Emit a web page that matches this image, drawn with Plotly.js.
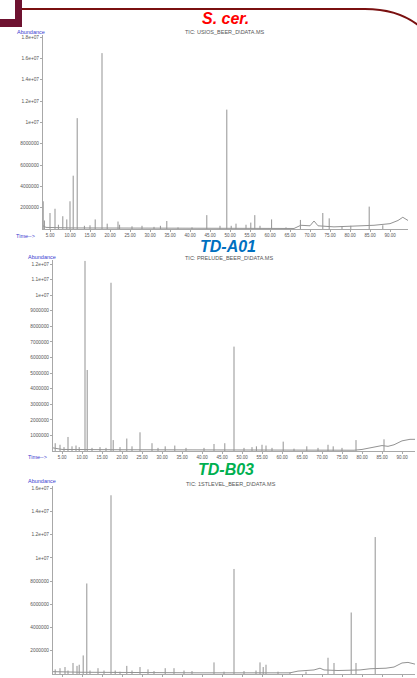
<!DOCTYPE html>
<html>
<head>
<meta charset="utf-8">
<script src="https://cdn.plot.ly/plotly-3.0.1.min.js"></script>
<style>
  html, body { margin: 0; padding: 0; background: #ffffff; }
  #chart { width: 417px; height: 678px; }
</style>
</head>
<body>
<div id="chart"></div>
<script>
// ---------- Panel titles ----------
const panelTitles = ['S. cer.', 'TD-A01', 'TD-B03'];
const panelFiles = ['TIC: USIOS_BEER_D\\DATA.MS', 'TIC: PRELUDE_BEER_D\\DATA.MS', 'TIC: 1STLEVEL_BEER_D\\DATA.MS'];

// ---------- Time axis ticks (minutes) ----------
const timeTickVals = [5, 10, 15, 20, 25, 30, 35, 40, 45, 50, 55, 60, 65, 70, 75, 80, 85, 90];
const timeTickText = ['5.00', '10.00', '15.00', '20.00', '25.00', '30.00', '35.00', '40.00', '45.00',
  '50.00', '55.00', '60.00', '65.00', '70.00', '75.00', '80.00', '85.00', '90.00'];

// ---------- Abundance ticks ----------
const scAbTickVals = [2e6, 4e6, 6e6, 8e6, 1e7, 1.2e7, 1.4e7, 1.6e7, 1.8e7];
const scAbTickText = ['2000000', '4000000', '6000000', '8000000', '1e+07', '1.2e+07', '1.4e+07', '1.6e+07', '1.8e+07'];
const a01AbTickVals = [1e6, 2e6, 3e6, 4e6, 5e6, 6e6, 7e6, 8e6, 9e6, 1e7, 1.1e7, 1.2e7];
const a01AbTickText = ['1000000', '2000000', '3000000', '4000000', '5000000', '6000000', '7000000', '8000000', '9000000', '1e+07', '1.1e+07', '1.2e+07'];
const b03AbTickVals = [2e6, 4e6, 6e6, 8e6, 1e7, 1.2e7, 1.4e7, 1.6e7];
const b03AbTickText = ['2000000', '4000000', '6000000', '8000000', '1e+07', '1.2e+07', '1.4e+07', '1.6e+07'];

// ---------- S. cer. chromatogram ----------
const scPeakTime = [3.3, 3.6, 5.0, 6.25, 7.1, 8.2, 9.2, 10.0, 10.8, 11.8, 13.6, 15.0, 16.3, 18.0, 19.3, 22.0, 22.4, 25.5, 28.0, 31.0,
  32.6, 34.2, 37.0, 40.5, 44.2, 47.5, 49.2, 50.3, 51.5, 54.0, 55.2, 56.2, 57.5, 60.4, 64.0, 67.6, 73.2, 74.8, 78.0, 80.2, 84.8, 88.2];
const scPeakAbund = [2.6e6, 0.8e6, 1.5e6, 1.9e6, 0.4e6, 1.2e6, 0.9e6, 2.6e6, 5.0e6, 10.4e6, 0.3e6, 0.35e6, 0.9e6, 16.5e6, 0.5e6, 0.7e6, 0.4e6, 0.25e6, 0.3e6, 0.2e6,
  0.3e6, 0.75e6, 0.15e6, 0.15e6, 1.3e6, 0.3e6, 11.2e6, 0.3e6, 0.5e6, 0.4e6, 0.6e6, 1.3e6, 0.3e6, 0.9e6, 0.15e6, 0.85e6, 1.5e6, 1.0e6, 0.25e6, 0.3e6, 2.1e6, 0.35e6];
const scBaseTime = [3.25, 4.0, 10.0, 20.0, 40.0, 66.0, 67.7, 70.0, 71.0, 72.0, 76.0, 80.0, 84.0, 86.0, 90.0, 92.0, 93.2, 94.5];
const scBaseAbund = [0.3e6, 0.15e6, 0.1e6, 0.08e6, 0.05e6, 0.05e6, 0.35e6, 0.3e6, 0.75e6, 0.3e6, 0.2e6, 0.25e6, 0.3e6, 0.35e6, 0.5e6, 0.8e6, 1.1e6, 0.8e6];

// ---------- TD-A01 chromatogram ----------
const a01PeakTime = [3.3, 4.5, 5.5, 6.5, 7.5, 8.5, 9.3, 10.75, 11.3, 12.5, 14.5, 16.0, 17.25, 17.8, 19.5, 21.2, 22.5, 24.5, 27.5, 29.0,
  30.8, 33.2, 36.0, 40.5, 43.0, 45.7, 48.0, 50.5, 52.5, 53.6, 55.0, 56.0, 57.5, 60.3, 63.0, 66.2, 69.0, 71.5, 72.8, 75.0, 78.5, 85.5];
const a01PeakAbund = [0.5e6, 0.4e6, 0.25e6, 0.9e6, 0.3e6, 0.35e6, 0.25e6, 12.2e6, 5.2e6, 0.2e6, 0.25e6, 0.2e6, 10.8e6, 0.7e6, 0.25e6, 0.8e6, 0.3e6, 1.2e6, 0.5e6, 0.2e6,
  0.3e6, 0.35e6, 0.2e6, 0.2e6, 0.45e6, 0.5e6, 6.7e6, 0.2e6, 0.25e6, 0.3e6, 0.4e6, 0.35e6, 0.2e6, 0.6e6, 0.15e6, 0.3e6, 0.2e6, 0.4e6, 0.3e6, 0.2e6, 0.7e6, 0.75e6];
const a01BaseTime = [2.75, 5.0, 20.0, 60.0, 78.0, 80.0, 82.0, 84.0, 85.0, 86.5, 88.0, 90.0, 92.0, 93.25];
const a01BaseAbund = [0.2e6, 0.1e6, 0.08e6, 0.05e6, 0.05e6, 0.1e6, 0.2e6, 0.3e6, 0.35e6, 0.3e6, 0.4e6, 0.65e6, 0.75e6, 0.75e6];

// ---------- TD-B03 chromatogram ----------
const b03PeakTime = [3.3, 4.5, 5.75, 6.5, 7.75, 8.75, 9.3, 10.3, 11.2, 12.0, 14.0, 15.5, 17.25, 18.3, 19.5, 21.2, 22.5, 24.5, 26.5, 28.0,
  30.8, 33.0, 35.5, 37.5, 43.0, 45.5, 48.0, 50.5, 53.5, 54.5, 55.3, 56.0, 59.0, 62.0, 66.0, 71.5, 73.0, 77.3, 78.5, 83.3];
const b03PeakAbund = [0.4e6, 0.5e6, 0.6e6, 0.3e6, 0.95e6, 0.7e6, 0.8e6, 1.6e6, 7.8e6, 0.3e6, 0.5e6, 0.3e6, 15.4e6, 0.3e6, 0.2e6, 0.7e6, 0.3e6, 0.6e6, 0.4e6, 0.25e6,
  0.5e6, 0.5e6, 0.3e6, 0.25e6, 1.0e6, 0.2e6, 9.05e6, 0.25e6, 0.3e6, 1.0e6, 0.6e6, 0.8e6, 0.2e6, 0.15e6, 0.2e6, 1.4e6, 0.95e6, 5.3e6, 0.95e6, 11.8e6];
const b03BaseTime = [2.75, 10.0, 40.0, 62.0, 64.0, 66.0, 68.0, 69.5, 70.5, 74.0, 79.5, 82.0, 86.0, 88.0, 90.0, 91.5, 93.25];
const b03BaseAbund = [0.2e6, 0.15e6, 0.1e6, 0.1e6, 0.25e6, 0.3e6, 0.35e6, 0.5e6, 0.35e6, 0.3e6, 0.35e6, 0.45e6, 0.5e6, 0.6e6, 0.95e6, 1.0e6, 0.85e6];

// ---------- helpers (pixel -> paper fraction) ----------
const W = 417, H = 678;
const px = v => v / W;
const py = v => 1 - v / H;

const LINE = '#939393';
const FONT = 'Liberation Sans, Arial, sans-serif';

function peakSegments(times, abunds) {
  const x = [], y = [];
  times.forEach((t, i) => { x.push(t, t, null); y.push(0, abunds[i], null); });
  return { x, y };
}

const panels = [
  { pt: scPeakTime, pa: scPeakAbund, bt: scBaseTime, ba: scBaseAbund, xa: 'x', ya: 'y' },
  { pt: a01PeakTime, pa: a01PeakAbund, bt: a01BaseTime, ba: a01BaseAbund, xa: 'x2', ya: 'y2' },
  { pt: b03PeakTime, pa: b03PeakAbund, bt: b03BaseTime, ba: b03BaseAbund, xa: 'x3', ya: 'y3' }
];

const traces = [];
panels.forEach(p => {
  traces.push({ type: 'scatter', mode: 'lines', x: p.bt, y: p.ba, xaxis: p.xa, yaxis: p.ya,
    line: { color: LINE, width: 1 }, hoverinfo: 'skip', showlegend: false });
  const seg = peakSegments(p.pt, p.pa);
  traces.push({ type: 'scatter', mode: 'lines', x: seg.x, y: seg.y, xaxis: p.xa, yaxis: p.ya,
    line: { color: LINE, width: 1 }, connectgaps: false, hoverinfo: 'skip', showlegend: false });
});

function xAxis(d0, d1, r0, r1, anchor, showLabels) {
  return { domain: [px(d0), px(d1)], range: [r0, r1], anchor: anchor,
    showgrid: false, zeroline: false, showline: true, linecolor: '#a8a8a8', linewidth: 1,
    ticks: 'outside', ticklen: 2, tickcolor: '#a8a8a8', tickwidth: 1,
    tickvals: timeTickVals, ticktext: timeTickText, showticklabels: showLabels,
    tickfont: { family: FONT, size: 4.5, color: '#555' } };
}
function yAxis(top, bottom, rmax, vals, text, anchor) {
  return { domain: [py(bottom), py(top)], range: [0, rmax], anchor: anchor,
    showgrid: false, zeroline: false, showline: true, linecolor: '#a8a8a8', linewidth: 1,
    ticks: 'outside', ticklen: 2, tickcolor: '#a8a8a8', tickwidth: 1,
    tickvals: vals, ticktext: text,
    tickfont: { family: FONT, size: 4.8, color: '#555' } };
}

function ann(text, x, y, size, color, extra) {
  return Object.assign({ text: text, xref: 'paper', yref: 'paper', x: px(x), y: py(y),
    xanchor: 'center', yanchor: 'middle', showarrow: false,
    font: { family: FONT, size: size, color: color } }, extra || {});
}

const annotations = [
  ann('<b><i>' + panelTitles[0] + '</i></b>', 225, 18, 16, '#ff0000'),
  ann('<b><i>' + panelTitles[1] + '</i></b>', 228, 246, 16, '#0070c0'),
  ann('<b><i>' + panelTitles[2] + '</i></b>', 226, 469, 16, '#00b050'),
  ann(panelFiles[0], 225, 32, 5.5, '#555'),
  ann(panelFiles[1], 229, 258, 5.5, '#555'),
  ann(panelFiles[2], 231, 484, 5.5, '#555'),
  ann('Abundance', 15, 32, 5.5, '#3a3acf', { xanchor: 'left' }),
  ann('Abundance', 26, 257, 5.5, '#3a3acf', { xanchor: 'left' }),
  ann('Abundance', 26, 481, 5.5, '#3a3acf', { xanchor: 'left' }),
  ann('Time--&gt;', 14, 236, 5.5, '#3a3acf', { xanchor: 'left' }),
  ann('Time--&gt;', 26, 457, 5.5, '#3a3acf', { xanchor: 'left' })
];

const MAROON = '#6e1230';
const shapes = [
  { type: 'rect', xref: 'paper', yref: 'paper', x0: px(15), x1: px(22), y0: py(27), y1: py(0),
    fillcolor: MAROON, line: { width: 0 } },
  { type: 'rect', xref: 'paper', yref: 'paper', x0: px(0), x1: px(22), y0: py(27), y1: py(19),
    fillcolor: MAROON, line: { width: 0 } },
  { type: 'path', xref: 'paper', yref: 'paper',
    path: 'M ' + px(22) + ',' + py(9) + ' L ' + px(365) + ',' + py(9) +
          ' Q ' + px(397) + ',' + py(9) + ' ' + px(418) + ',' + py(25),
    line: { color: '#7a1010', width: 2 } }
];

const layout = {
  width: W, height: H,
  margin: { l: 0, r: 0, t: 0, b: 0 },
  paper_bgcolor: '#ffffff', plot_bgcolor: 'rgba(0,0,0,0)',
  showlegend: false,
  xaxis: xAxis(43, 408, 3.25, 94.5, 'y', true),
  yaxis: yAxis(35, 229, 18.2e6, scAbTickVals, scAbTickText, 'x'),
  xaxis2: xAxis(53, 415, 2.75, 93.25, 'y2', true),
  yaxis2: yAxis(260, 451, 12.26e6, a01AbTickVals, a01AbTickText, 'x2'),
  xaxis3: xAxis(53, 415, 2.75, 93.25, 'y3', false),
  yaxis3: yAxis(486, 674, 16.2e6, b03AbTickVals, b03AbTickText, 'x3'),
  annotations: annotations,
  shapes: shapes
};

Plotly.newPlot('chart', traces, layout, { staticPlot: true, displayModeBar: false });
</script>
</body>
</html>
